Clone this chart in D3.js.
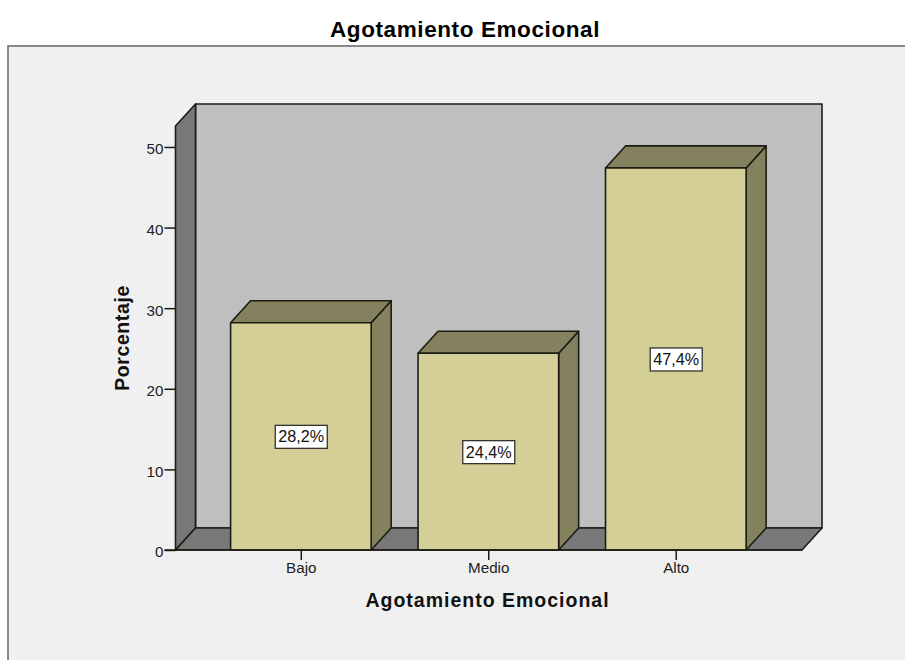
<!DOCTYPE html>
<html>
<head>
<meta charset="utf-8">
<script src="https://cdn.jsdelivr.net/npm/d3@7/dist/d3.min.js"></script>
<style>
html,body{margin:0;padding:0;background:#fff;overflow:hidden}
svg{display:block}
text{font-family:"Liberation Sans",Arial,sans-serif;fill:#1a1a1a}
</style>
</head>
<body>
<script>
const categories = ["Bajo", "Medio", "Alto"];
const percentages = [28.2, 24.4, 47.4];
const valueLabels = ["28,2%", "24,4%", "47,4%"];
const yTicks = [0, 10, 20, 30, 40, 50];
const chartTitle = "Agotamiento Emocional";
const xTitle = "Agotamiento Emocional";
const yTitle = "Porcentaje";

const width = 905, height = 660;
const plot = {left: 175.5, right: 802, top: 126, bottom: 550};
const depth = {x: 20, y: -22};
const edge = "#1c1c14";

const svg = d3.select("body").append("svg").attr("width", width).attr("height", height);

const y = d3.scaleLinear().domain([0, 52.6]).range([plot.bottom, plot.top]);
const x = d3.scaleBand().domain(categories).range([plot.left, plot.right])
  .paddingInner(0.25).paddingOuter(0.296);

const poly = (pts, fill, sw = 1.6) => svg.append("polygon")
  .attr("points", pts.map(p => p.join(",")).join(" "))
  .attr("fill", fill).attr("stroke", edge).attr("stroke-width", sw)
  .attr("stroke-linejoin", "round");

// Panel behind the chart
svg.append("rect").attr("x", 8).attr("y", 46).attr("width", width).attr("height", height)
  .attr("fill", "#f0f0f0").attr("stroke", "#6e6e6e").attr("stroke-width", 1.6);

svg.append("text").attr("x", 465).attr("y", 36.5).attr("text-anchor", "middle")
  .attr("font-size", 22.5).attr("font-weight", "bold").attr("letter-spacing", 0.6)
  .style("fill", "#000").text(chartTitle);

// Box walls: back, left, floor
const L = plot.left, R = plot.right, T = plot.top, B = plot.bottom, dx = depth.x, dy = depth.y;
poly([[L + dx, T + dy], [R + dx, T + dy], [R + dx, B + dy], [L + dx, B + dy]], "#bfbfbf");
poly([[L, T], [L + dx, T + dy], [L + dx, B + dy], [L, B]], "#787878");
poly([[L, B], [L + dx, B + dy], [R + dx, B + dy], [R, B]], "#787878");

// Extruded bars
categories.forEach((c, i) => {
  const x0 = x(c) - 0.4, x1 = x0 + x.bandwidth(), yv = y(percentages[i]);
  poly([[x1, yv], [x1 + dx, yv + dy], [x1 + dx, B + dy], [x1, B]], "#84825e");
  poly([[x0, yv], [x0 + dx, yv + dy], [x1 + dx, yv + dy], [x1, yv]], "#84825e");
  poly([[x0, yv], [x1, yv], [x1, B], [x0, B]], "#d3cf97");
});

// Value labels sit at the middle of each bar's height
categories.forEach((c, i) => {
  const cx = x(c) + x.bandwidth() / 2, cy = y(percentages[i] / 2) + 0.5;
  svg.append("rect").attr("x", cx - 26).attr("y", cy - 11.5).attr("width", 52).attr("height", 23)
    .attr("fill", "#fff").attr("stroke", "#33332a").attr("stroke-width", 1.3);
  svg.append("text").attr("x", cx).attr("y", cy + 5.5).attr("text-anchor", "middle")
    .attr("font-size", 16.2).style("fill", "#111").text(valueLabels[i]);
});

// Axes
const yAxis = svg.append("g").attr("transform", `translate(${plot.left},0)`)
  .call(d3.axisLeft(y).tickValues(yTicks).tickSize(11).tickPadding(1).tickFormat(d3.format("d")));
const xAxis = svg.append("g").attr("transform", `translate(0,${plot.bottom})`)
  .call(d3.axisBottom(x).tickSize(10).tickPadding(2));
[yAxis, xAxis].forEach(a => {
  a.select(".domain").remove();
  a.selectAll("line").attr("stroke", edge).attr("stroke-width", 1.5);
  a.selectAll("text").attr("font-size", 15.2).attr("font-family", '"Liberation Sans",Arial,sans-serif').style("fill", "#222");
});
// Tick numbers sit slightly below their tick marks
yAxis.selectAll("text").attr("dy", "0.45em");
// Baseline across the front of the floor
svg.append("line").attr("x1", plot.left - 11).attr("x2", plot.right)
  .attr("y1", plot.bottom).attr("y2", plot.bottom)
  .attr("stroke", edge).attr("stroke-width", 1.6);

svg.append("text").attr("x", 487.5).attr("y", 607).attr("text-anchor", "middle")
  .attr("font-size", 19.5).attr("font-weight", "bold").attr("letter-spacing", 1)
  .style("fill", "#111").text(xTitle);
svg.append("text").attr("transform", "translate(128.5,338) rotate(-90)").attr("text-anchor", "middle")
  .attr("font-size", 19.5).attr("font-weight", "bold").attr("letter-spacing", 0.6)
  .style("fill", "#111").text(yTitle);
</script>
</body>
</html>
